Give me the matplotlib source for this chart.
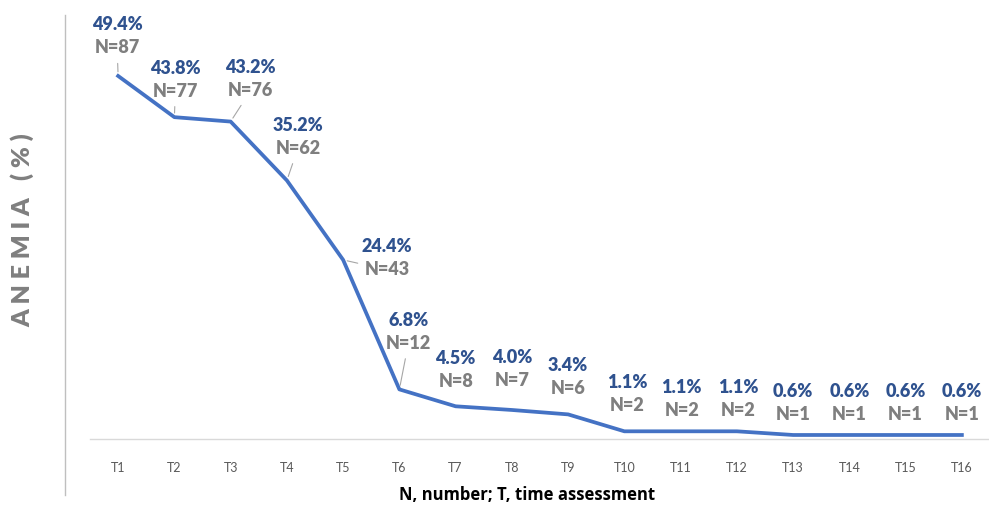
import matplotlib.pyplot as plt
from matplotlib.lines import Line2D

# anemia prevalence over time assessments
times = ["T1", "T2", "T3", "T4", "T5", "T6", "T7", "T8",
         "T9", "T10", "T11", "T12", "T13", "T14", "T15", "T16"]
anemia_pct = [49.4, 43.8, 43.2, 35.2, 24.4, 6.8, 4.5, 4.0,
              3.4, 1.1, 1.1, 1.1, 0.6, 0.6, 0.6, 0.6]
n_cases = [87, 77, 76, 62, 43, 12, 8, 7, 6, 2, 2, 2, 1, 1, 1, 1]

# label offsets (pixels) of the percent text from each point
label_off = [(-1, 51), (1, 49), (20, 54), (11, 55), (44, 13), (9, 69),
             (0, 48), (0, 52), (0, 49), (3, 49), (1, 44), (1, 44),
             (0, 43), (0, 43), (0, 43), (0, 43)]
has_leader = [True, True, True, True, True, True] + [False] * 10

line_blue = "#4472C4"
pct_blue = "#2F528F"
n_gray = "#7F7F7F"

fig = plt.figure(figsize=(9.89, 5.05), dpi=100)
ax = fig.add_axes([90 / 989, (505 - 439.4) / 505, 900 / 989, 55 * 7.357 / 505])

x = list(range(len(times)))
ax.plot(x, anemia_pct, color=line_blue, lw=2.7, solid_joinstyle="round")

ax.set_xlim(-0.5, 15.5)
ax.set_ylim(0, 55)
ax.set_yticks([])
ax.set_xticks(x)
ax.set_xticklabels(times, color="#595959", fontsize=9, family="Lato")
ax.tick_params(axis="x", length=0, pad=16)
for s in ["top", "left", "right"]:
    ax.spines[s].set_visible(False)
ax.spines["bottom"].set_color("#D9D9D9")
ax.spines["bottom"].set_linewidth(1)

for i, (v, n) in enumerate(zip(anemia_pct, n_cases)):
    dx, dy = label_off[i]
    ax.annotate(f"{v:.1f}%", (i, v), xytext=(dx, dy), textcoords="offset pixels",
                ha="center", va="center", color=pct_blue, fontsize=13,
                fontweight="heavy", family="Lato")
    arrow = None
    if has_leader[i]:
        arrow = dict(arrowstyle="-", color="#A6A6A6", lw=0.8, shrinkA=3, shrinkB=3)
    ax.annotate(f"N={n}", (i, v), xytext=(dx, dy - 23), textcoords="offset pixels",
                ha="center", va="center", color=n_gray, fontsize=13,
                fontweight="heavy", family="Lato", arrowprops=arrow)

fig.text(527 / 989, 1 - 495 / 505, "N, number; T, time assessment",
         ha="center", va="center", fontsize=12, fontweight="bold",
         family="Open Sans", color="black")
fig.text(22 / 989, 1 - 230 / 505, "A N E M I A   ( % )", rotation=90,
         ha="center", va="center", fontsize=18, fontweight="heavy",
         family="Lato", color="#7F7F7F")

fig.add_artist(Line2D([65 / 989, 65 / 989], [1 - 15 / 505, 1 - 495 / 505],
                      color="#BFBFBF", lw=1, transform=fig.transFigure))

fig.savefig("out.png", dpi=100)
